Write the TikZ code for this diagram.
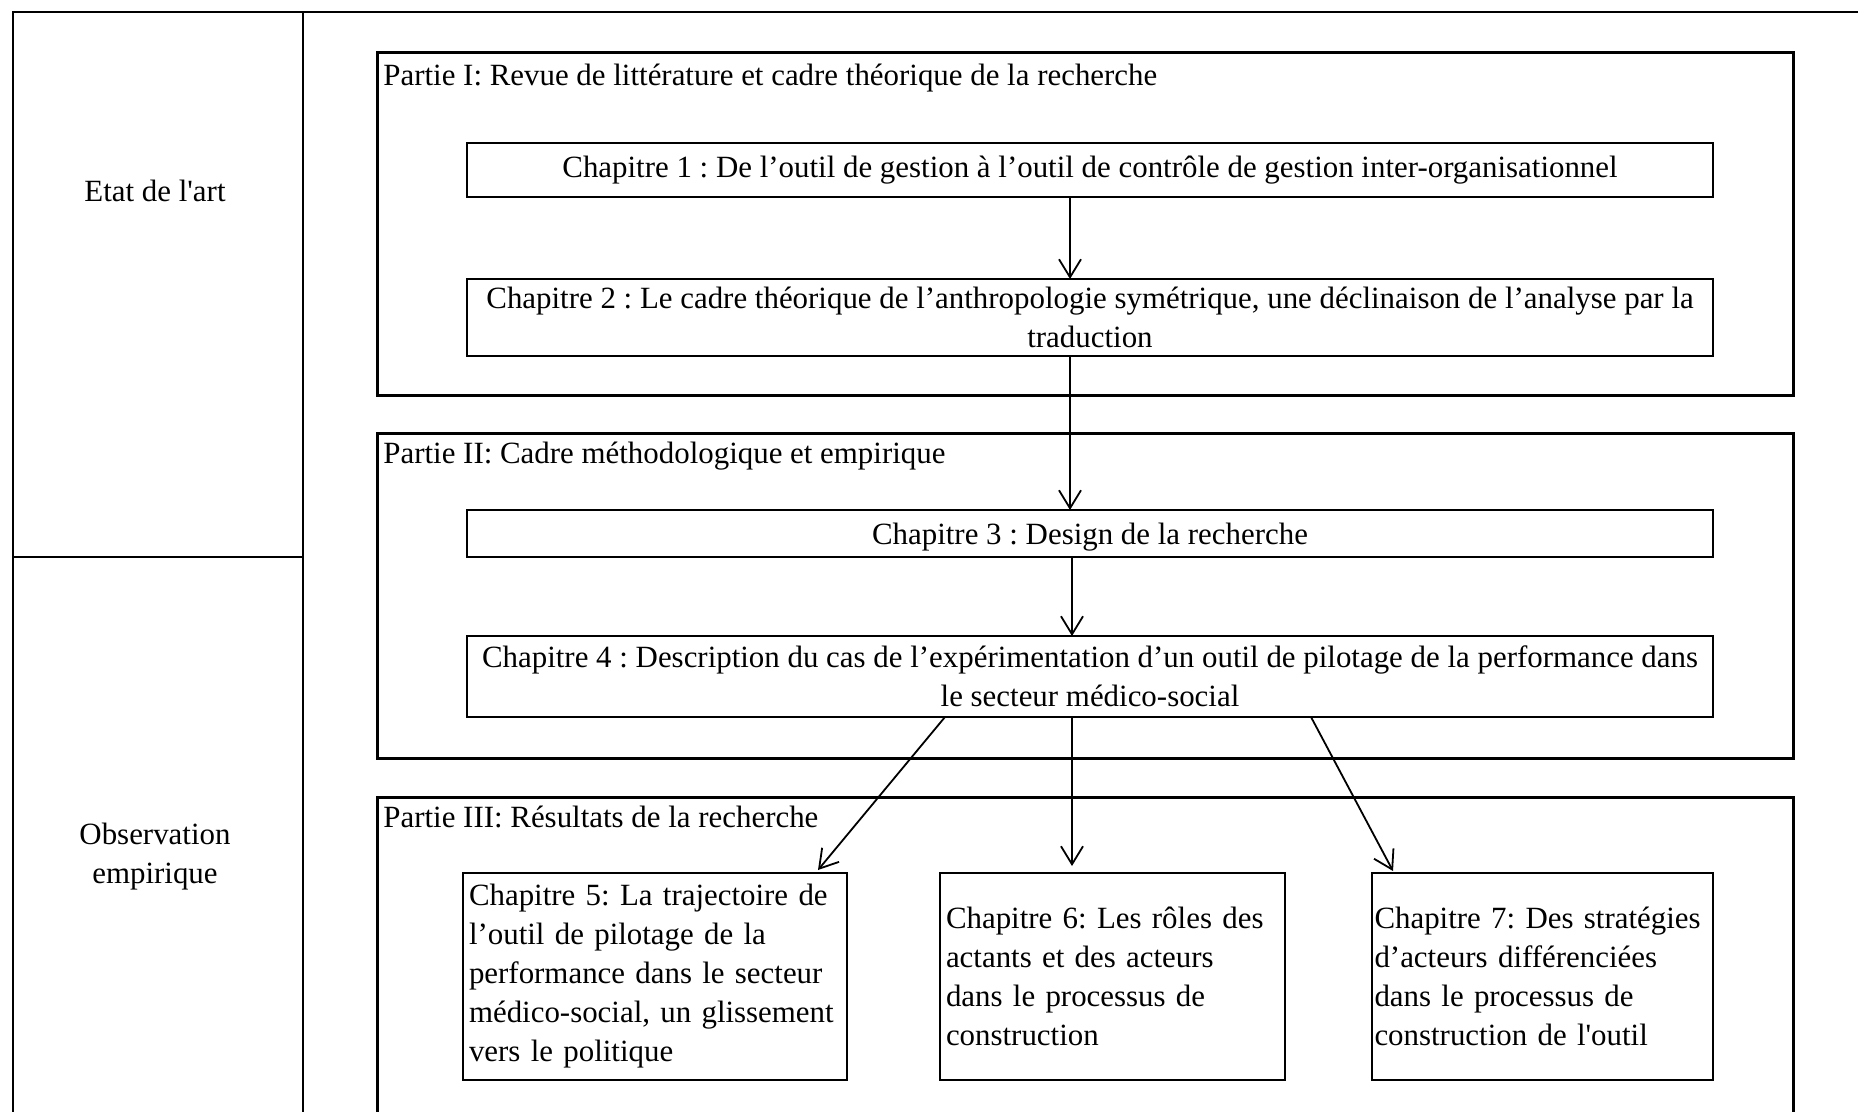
\documentclass[tikz,border=0pt]{standalone}
\usepackage{fontspec}
\setmainfont{Liberation Serif}
\usetikzlibrary{positioning,arrows.meta}

\begin{document}
\begin{tikzpicture}[x=1pt,y=-1pt,
  every node/.style={font=\frenchspacing\fontsize{15.45}{19.5}\selectfont,inner sep=3.5pt},%
  cellline/.style={line width=1.4pt},%
  partbox/.style={draw,line width=1.4pt,anchor=north west,minimum width=708pt},%
  chapbox/.style={draw,line width=1.4pt,align=center,minimum width=623pt,inner ysep=1pt,outer sep=0pt},%
  subbox/.style={draw,line width=1.4pt,align=left,minimum height=103.5pt,inner xsep=3pt,outer sep=0pt},%
  e/.style={-{Straight Barb[length=9pt,width=11pt]},line width=0.9pt},%
  ]

  \useasboundingbox (0,0) rectangle (929,556);
  \clip (0,0) rectangle (929,556);

  % left column
  \draw [cellline] (6.5,560) -- (6.5,6) -- (935,6);
  \draw [cellline] (151.5,6) -- (151.5,560);
  \draw [cellline] (6.5,278.5) -- (151.5,278.5);

  \node (etat) at (77.5,95.5) {Etat de l\textquotesingle art};
  \node (obs) [align=center] at (77.5,428.5) {Observation\\empirique};

  % parts
  \node (p1) [partbox,minimum height=171.5pt] at (188,25.5) {};
  \node (p2) [partbox,minimum height=162.5pt] at (188,216) {};
  \node (p3) [partbox,minimum height=175pt] at (188,398) {};

  \node (t1) [anchor=west] at ([yshift=-13.5pt]p1.north west)
  {Partie I: Revue de littérature et cadre théorique de la recherche};
  \node (t2) [anchor=west] at ([yshift=-12pt]p2.north west)
  {Partie II: Cadre méthodologique et empirique};
  \node (t3) [anchor=west] at ([yshift=-10.5pt]p3.north west)
  {Partie III: Résultats de la recherche};

  % chapters
  \node (ch1) [chapbox,minimum height=27pt] at (545,85)
  {Chapitre 1 : De l’outil de gestion à l’outil de contrôle de gestion inter-organisationnel};

  \node (ch2) [chapbox,minimum height=38.5pt,
  below=41pt of ch1,
  ] {Chapitre 2 : Le cadre théorique de l’anthropologie symétrique, une déclinaison de l’analyse par la\\traduction};

  \node (ch3) [chapbox,minimum height=23.5pt,text depth=0pt,
  below=77pt of ch2,
  ] {Chapitre 3 : Design de la recherche};

  \node (ch4) [chapbox,minimum height=40.5pt,
  below=39.5pt of ch3,
  ] {Chapitre 4 : Description du cas de l’expérimentation d’un outil de pilotage de la performance dans\\le secteur médico-social};

  \node (ch6) [subbox,text width=166.5pt,
  below=78pt of ch4,
  xshift=11.25pt,
  ] {Chapitre 6: Les rôles des\\actants et des acteurs\\dans le processus de\\construction};

  \node (ch5) [subbox,text width=186pt,
  left=46.5pt of ch6,
  ] {Chapitre 5: La trajectoire de\\l’outil de pilotage de la\\performance dans le secteur\\médico-social, un glissement\\vers le politique};

  \node (ch7) [subbox,text width=168pt,inner xsep=1.25pt,
  right=43.5pt of ch6,
  ] {Chapitre 7: Des stratégies\\d’acteurs différenciées\\dans le processus de\\construction de l\textquotesingle outil};

  \draw [e] ([xshift=-10pt]ch1.south) -- ([xshift=-10pt]ch2.north);
  \draw [e] ([xshift=-10pt]ch2.south) -- ([xshift=-10pt]ch3.north);
  \draw [e] ([xshift=-9pt]ch3.south) -- ([xshift=-9pt]ch4.north);
  \draw [e] ([xshift=-9pt]ch4.south) -- ([xshift=-9pt,yshift=3.5pt]ch4.south |- ch6.north);
  \draw [e] ([xshift=-72.5pt]ch4.south) -- ([xshift=-14.5pt,yshift=1.5pt]ch5.north east);
  \draw [e] ([xshift=110.5pt]ch4.south) -- ([xshift=10.5pt,yshift=1pt]ch7.north west);
\end{tikzpicture}
\end{document}
